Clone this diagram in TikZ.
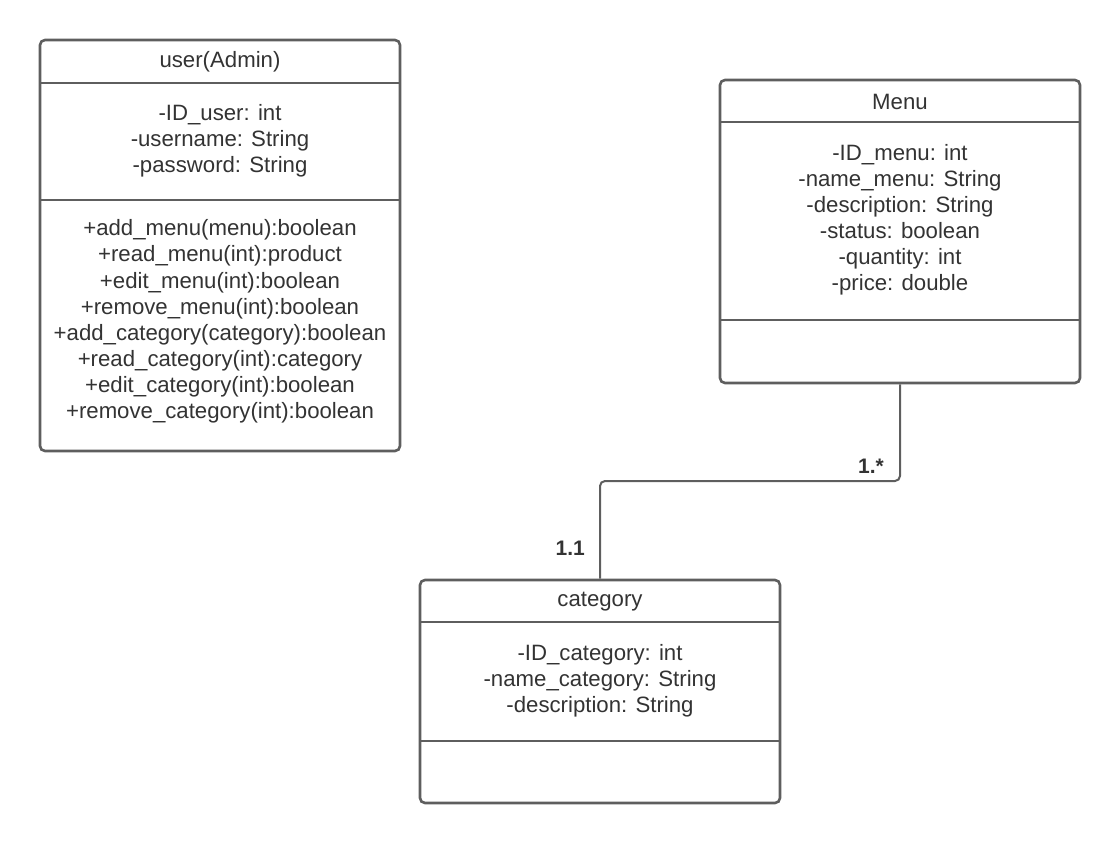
\documentclass[tikz,border=0pt]{standalone}
\usepackage{fontspec}
\setmainfont{Liberation Sans}
\begin{document}
\begin{tikzpicture}[x=1pt,y=-1pt,
  classbox/.style={draw=boxgray, line width=2.6pt, rounded corners=5pt, fill=white,
    minimum width=360pt, inner sep=0pt},
  divider/.style={draw=boxgray, line width=2.6pt},
  txt/.style={text=textgray, font=\fontsize{22.2}{26.1}\selectfont, align=center, inner sep=0pt},
  mult/.style={text=textgray, font=\fontsize{21}{24}\selectfont\bfseries, inner sep=0pt},
  link/.style={draw=boxgray, line width=2pt, rounded corners=5pt}]
\definecolor{boxgray}{HTML}{5E5E5E}
\definecolor{textgray}{HTML}{333333}
\useasboundingbox (0,0) rectangle (1120,844);

% class boxes
\node[classbox, minimum height=411pt] (user) at (220,245.5) {};
\node[classbox, minimum height=303pt] (menu) at (900,231.5) {};
\node[classbox, minimum height=223pt] (cat) at (600,691.5) {};

% compartment dividers
\draw[divider] (40,83) -- (400,83);
\draw[divider] (40,200) -- (400,200);
\draw[divider] (720,122) -- (1080,122);
\draw[divider] (720,320) -- (1080,320);
\draw[divider] (420,622) -- (780,622);
\draw[divider] (420,741) -- (780,741);

% user(Admin)
\node[txt] (userT) at (220,62) {user(Admin)};
\node[txt] (userA) at (220,140.5) {-ID\_user: int\\-username: String\\-password: String};
\node[txt] (userM) at (220,321.5) {+add\_menu(menu):boolean\\+read\_menu(int):product\\+edit\_menu(int):boolean\\+remove\_menu(int):boolean\\+add\_category(category):boolean\\+read\_category(int):category\\+edit\_category(int):boolean\\+remove\_category(int):boolean};

% Menu
\node[txt] (menuT) at (900,102) {Menu};
\node[txt] (menuA) at (900,220) {-ID\_menu: int\\-name\_menu: String\\-description: String\\-status: boolean\\-quantity: int\\-price: double};

% category
\node[txt] (catT) at (600,602) {category};
\node[txt] (catA) at (600,680.5) {-ID\_category: int\\-name\_category: String\\-description: String};

% association
\coordinate (bend) at (600,481);
\draw[link] (menu.south) |- (bend) -- (cat.north);
\node[mult, anchor=east] (m1) at (884,466) {1.*};
\node[mult, anchor=east] (m2) at (585,548) {1.1};
\end{tikzpicture}
\end{document}
